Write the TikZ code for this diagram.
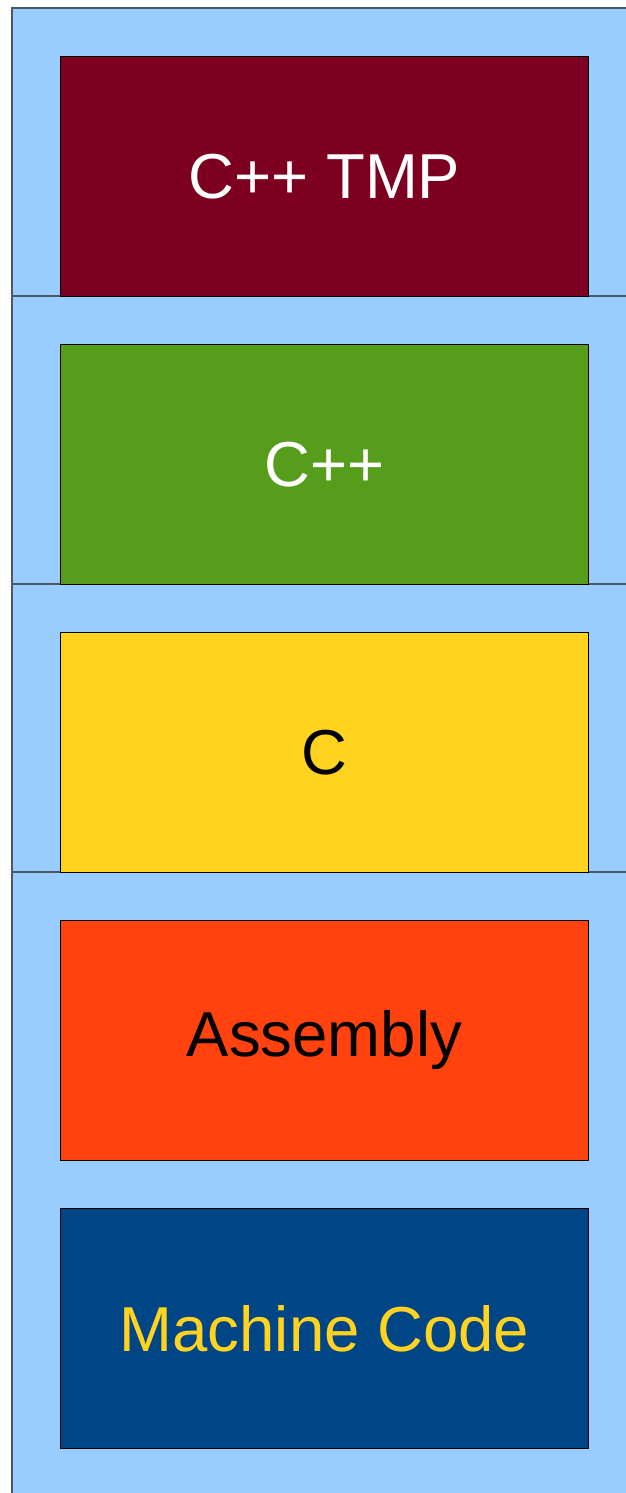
\documentclass[tikz,border=0pt]{standalone}
\usepackage{fontspec}
\setmainfont{Liberation Sans}
\definecolor{panelfill}{HTML}{99CCFF}
\definecolor{panelline}{HTML}{4A5866}
\definecolor{tmpred}{HTML}{7E0021}
\definecolor{cppgreen}{HTML}{579D1C}
\definecolor{cyellow}{HTML}{FFD320}
\definecolor{asmorange}{HTML}{FF420E}
\definecolor{mcblue}{HTML}{004586}
\begin{document}
\begin{tikzpicture}[x=1pt,y=-1pt,
  panel/.style={fill=panelfill,draw=panelline,line width=1.2pt},
  layerbox/.style={draw=black,line width=0.9pt,minimum width=528pt,minimum height=240pt,
    inner sep=0pt,anchor=north west,font=\fontsize{63.5}{70}\selectfont}]
\useasboundingbox (0,0) rectangle (626,1493);
\clip (0,0) rectangle (626,1493);
\draw[panel] (12,8) rectangle (660,296);
\draw[panel] (12,296) rectangle (660,584);
\draw[panel] (12,584) rectangle (660,872);
\draw[panel] (12,872) rectangle (660,1520);
\node[layerbox,fill=tmpred,text=white] (tmp) at (60,56) {C++ TMP};
\node[layerbox,fill=cppgreen,text=white] (cpp) at (60,344) {C++};
\node[layerbox,fill=cyellow,text=black] (c) at (60,632) {C};
\node[layerbox,fill=asmorange,text=black] (asm) at (60,920) {Assembly};
\node[layerbox,fill=mcblue,text=cyellow] (mc) at (60,1208) {Machine Code};
\end{tikzpicture}
\end{document}
